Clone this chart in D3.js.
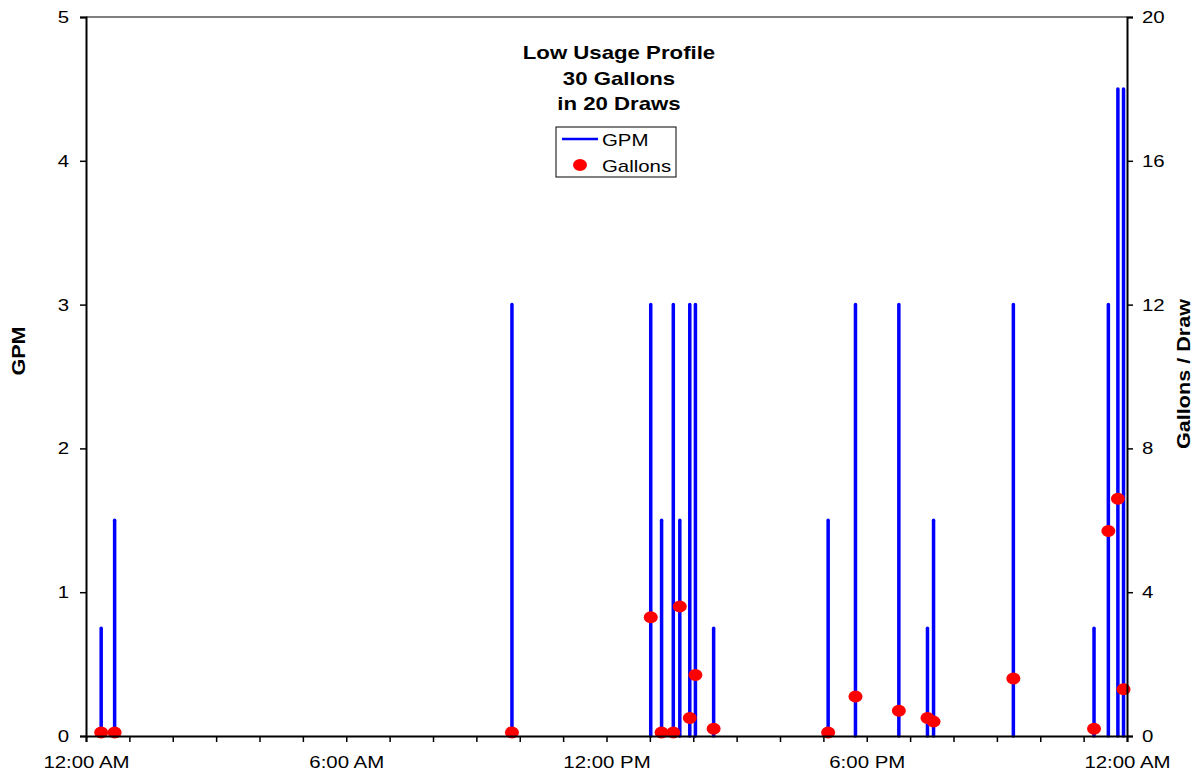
<!DOCTYPE html>
<html>
<head>
<meta charset="utf-8">
<script src="https://cdn.jsdelivr.net/npm/d3@7"></script>
<style>
  body { margin: 0; background: #fff; }
  text { font-family: "Liberation Sans", Arial, sans-serif; fill: #000; }
</style>
</head>
<body>
<div id="chart"></div>
<script>
// draw start times (hours after midnight), flow rate and volume of each draw
var drawHour = [0.35, 0.66, 9.82, 13.02, 13.27, 13.54, 13.69, 13.92, 14.05, 14.47,
                17.11, 17.74, 18.74, 19.40, 19.54, 21.38, 23.24, 23.57, 23.79, 23.92];
var drawGPM = [0.75, 1.5, 3, 3, 1.5, 3, 1.5, 3, 3, 0.75,
               1.5, 3, 3, 0.75, 1.5, 3, 0.75, 3, 4.5, 4.5];
var drawGallons = [0.1, 0.1, 0.1, 3.3, 0.1, 0.1, 3.6, 0.5, 1.7, 0.2,
                   0.1, 1.1, 0.7, 0.5, 0.4, 1.6, 0.2, 5.7, 6.6, 1.3];

var titleLines = ['Low Usage Profile', '30 Gallons', 'in 20 Draws'];
var hourTicks = d3.range(0, 25);
var timeLabels = {0: '12:00 AM', 6: '6:00 AM', 12: '12:00 PM', 18: '6:00 PM', 24: '12:00 AM'};
var gpmTicks = [0, 1, 2, 3, 4, 5];
var galTicks = [0, 4, 8, 12, 16, 20];

var W = 1200, H = 774;
var margin = {top: 17, right: 73, bottom: 38, left: 86};
var width = W - margin.left - margin.right,
    height = H - margin.top - margin.bottom;

var x = d3.scaleLinear().domain([0, 24]).range([0, width]);
var yL = d3.scaleLinear().domain([0, 5]).range([height, 0]);
var yR = d3.scaleLinear().domain([0, 20]).range([height, 0]);

var svg = d3.select('#chart').append('svg')
    .attr('width', W)
    .attr('height', H)
  .append('g')
    .attr('transform', 'translate(' + margin.left + ',' + margin.top + ')');

// top border of the plot area
svg.append('line')
  .attr('x1', 0).attr('x2', width)
  .attr('y1', 0).attr('y2', 0)
  .style('stroke', '#555')
  .style('stroke-width', 1.5);

// GPM spikes
svg.selectAll('.spike')
  .data(drawHour)
  .enter().append('line')
  .attr('class', 'spike')
  .attr('x1', function(d) { return x(d); })
  .attr('x2', function(d) { return x(d); })
  .attr('y1', yL(0))
  .attr('y2', function(d, i) { return yL(drawGPM[i]); })
  .style('stroke', '#0000ff')
  .style('stroke-width', 3.5)
  .style('stroke-linecap', 'round');

// gallons per draw
svg.selectAll('.dot')
  .data(drawHour)
  .enter().append('ellipse')
  .attr('class', 'dot')
  .attr('cx', function(d) { return x(d); })
  .attr('cy', function(d, i) { return yR(drawGallons[i]); })
  .attr('rx', 7)
  .attr('ry', 6)
  .style('fill', '#ff0000');

// axes
var xAxis = svg.append('g')
  .attr('transform', 'translate(0,' + height + ')')
  .call(d3.axisBottom(x).tickValues(hourTicks).tickSize(6)
    .tickFormat(function(d) { return timeLabels[d] || ''; }));

var leftAxis = svg.append('g')
  .call(d3.axisLeft(yL).tickValues(gpmTicks).tickSize(6).tickFormat(d3.format('d')));

var rightAxis = svg.append('g')
  .attr('transform', 'translate(' + width + ',0)')
  .call(d3.axisRight(yR).tickValues(galTicks).tickSize(6).tickFormat(d3.format('d')));

[xAxis, leftAxis, rightAxis].forEach(function(a) {
  a.select('.domain').style('stroke', '#000').style('stroke-width', 2);
  a.selectAll('.tick line').style('stroke', '#000').style('stroke-width', 1.5);
  a.selectAll('.tick text')
    .style('font-family', '"Liberation Sans", Arial, sans-serif')
    .style('font-size', '17px');
});
xAxis.selectAll('.tick text').attr('y', 20).attr('dy', '0.71em');
leftAxis.selectAll('.tick text').attr('x', -17);
rightAxis.selectAll('.tick text').attr('x', 15);

// axis titles
svg.append('text')
  .attr('transform', 'translate(' + (25 - margin.left) + ',' + (351 - margin.top) + ') rotate(-90)')
  .attr('text-anchor', 'middle')
  .style('font-weight', 'bold')
  .style('font-size', '18px')
  .text('GPM');

svg.append('text')
  .attr('transform', 'translate(' + (1190 - margin.left) + ',' + (374 - margin.top) + ') rotate(-90)')
  .attr('text-anchor', 'middle')
  .style('font-weight', 'bold')
  .style('font-size', '18px')
  .text('Gallons / Draw');

// title
svg.selectAll('.title')
  .data(titleLines)
  .enter().append('text')
  .attr('class', 'title')
  .attr('x', 619 - margin.left)
  .attr('y', function(d, i) { return 59 - margin.top + i * 25.5; })
  .attr('text-anchor', 'middle')
  .style('font-weight', 'bold')
  .style('font-size', '18.5px')
  .text(function(d) { return d; });

// legend
var legend = svg.append('g')
  .attr('transform', 'translate(' + (556 - margin.left) + ',' + (127 - margin.top) + ')');

legend.append('rect')
  .attr('width', 120)
  .attr('height', 50)
  .style('fill', '#fff')
  .style('stroke', '#000')
  .style('stroke-width', 1);

legend.append('line')
  .attr('x1', 6).attr('x2', 42)
  .attr('y1', 12).attr('y2', 12)
  .style('stroke', '#0000ff')
  .style('stroke-width', 2.5);

legend.append('ellipse')
  .attr('cx', 24).attr('cy', 38)
  .attr('rx', 7).attr('ry', 6)
  .style('fill', '#ff0000');

legend.append('text')
  .attr('x', 46).attr('y', 19)
  .style('font-size', '17px')
  .text('GPM');

legend.append('text')
  .attr('x', 46).attr('y', 45)
  .style('font-size', '17px')
  .text('Gallons');

// the original text renders a bit wider than Arial, stretch it
d3.selectAll('text').each(function() {
  var len = this.getComputedTextLength();
  if (len > 0) {
    d3.select(this)
      .attr('textLength', len * 1.2)
      .attr('lengthAdjust', 'spacingAndGlyphs');
  }
});
</script>
</body>
</html>
